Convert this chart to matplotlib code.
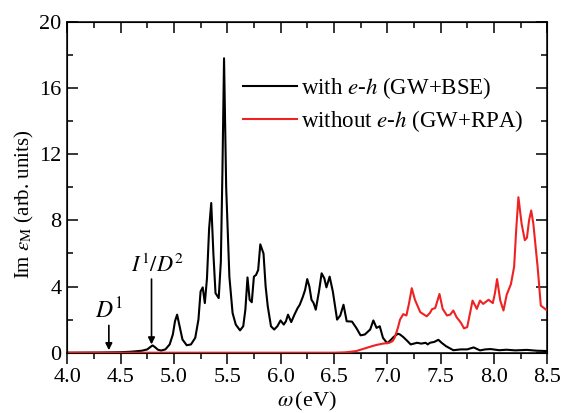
import matplotlib
matplotlib.use("Agg")
import matplotlib.pyplot as plt
from matplotlib.ticker import MultipleLocator

plt.rcParams['font.family'] = ['Liberation Serif', 'DejaVu Serif']
plt.rcParams['mathtext.fontset'] = 'stix'

# --- data ---
bse_energy = [4.0, 4.3, 4.5, 4.6, 4.7, 4.75, 4.78, 4.80, 4.82, 4.85, 4.88, 4.92, 4.96, 4.99,
              5.01, 5.03, 5.05, 5.08, 5.12, 5.16, 5.20, 5.23, 5.25, 5.27, 5.29, 5.31, 5.33,
              5.35, 5.37, 5.39, 5.42, 5.44, 5.455, 5.47, 5.49, 5.52, 5.55, 5.58, 5.62, 5.65,
              5.67, 5.69, 5.71, 5.73, 5.75, 5.77, 5.79, 5.81, 5.84, 5.86, 5.88, 5.91, 5.94,
              5.97, 6.00, 6.03, 6.05, 6.07, 6.10, 6.13, 6.16, 6.18, 6.21, 6.23, 6.25, 6.27,
              6.29, 6.31, 6.33, 6.36, 6.385, 6.41, 6.43, 6.46, 6.49, 6.53, 6.56, 6.59, 6.62,
              6.67, 6.71, 6.75, 6.79, 6.84, 6.87, 6.90, 6.93, 6.96, 7.00, 7.03, 7.06, 7.10,
              7.12, 7.15, 7.19, 7.22, 7.25, 7.28, 7.32, 7.36, 7.38, 7.40, 7.44, 7.48, 7.51,
              7.55, 7.62, 7.69, 7.75, 7.81, 7.87, 7.92, 7.97, 8.05, 8.12, 8.20, 8.31, 8.40, 8.50]
bse_im = [0.0, 0.01, 0.03, 0.06, 0.12, 0.2, 0.35, 0.44, 0.35, 0.18, 0.13, 0.2, 0.5, 1.1,
          1.9, 2.3, 1.7, 0.8, 0.45, 0.5, 0.9, 2.0, 3.7, 3.95, 3.0, 4.5, 7.5,
          9.05, 6.0, 3.6, 3.3, 5.5, 11.0, 17.8, 10.0, 4.6, 2.4, 1.7, 1.35, 1.6,
          2.6, 4.55, 3.2, 3.05, 4.6, 4.7, 5.0, 6.55, 6.0, 4.0, 2.8, 1.6, 1.4,
          1.6, 1.95, 1.7, 1.9, 2.3, 1.85, 2.3, 2.7, 2.9, 3.4, 3.8, 4.45, 4.0,
          3.2, 3.0, 2.6, 3.7, 4.8, 4.5, 3.95, 4.6, 3.7, 2.0, 2.25, 2.9, 1.9,
          1.88, 1.5, 1.05, 1.1, 1.4, 1.95, 1.5, 1.6, 0.9, 0.57, 0.75, 0.95, 1.15,
          1.1, 0.95, 0.7, 0.5, 0.55, 0.6, 0.55, 0.6, 0.5, 0.6, 0.65, 0.78, 0.6,
          0.4, 0.15, 0.2, 0.2, 0.32, 0.14, 0.2, 0.22, 0.15, 0.18, 0.14, 0.17, 0.12, 0.1]

rpa_energy = [4.0, 6.5, 6.6, 6.65, 6.71, 6.76, 6.81, 6.86, 6.90, 6.96, 7.02, 7.05, 7.07, 7.10,
              7.12, 7.15, 7.18, 7.205, 7.23, 7.26, 7.31, 7.37, 7.40, 7.42, 7.45, 7.49, 7.52,
              7.56, 7.59, 7.62, 7.65, 7.69, 7.72, 7.75, 7.78, 7.80, 7.84, 7.87, 7.90, 7.95,
              7.99, 8.01, 8.03, 8.06, 8.09, 8.12, 8.16, 8.19, 8.21, 8.23, 8.26, 8.29, 8.31,
              8.33, 8.35, 8.37, 8.41, 8.44, 8.47, 8.50]
rpa_im = [0.0, 0.0, 0.02, 0.05, 0.1, 0.2, 0.3, 0.4, 0.47, 0.55, 0.6, 0.7, 0.91, 1.5,
          2.0, 2.33, 2.25, 3.0, 3.9, 3.2, 2.45, 2.2, 2.4, 2.63, 2.7, 3.55, 2.65,
          2.25, 2.3, 2.55, 2.15, 1.82, 1.47, 1.55, 2.5, 3.15, 2.65, 3.15, 2.95, 3.2,
          3.0, 3.6, 4.45, 3.15, 2.55, 3.5, 4.15, 5.2, 7.5, 9.4, 7.8, 6.8, 6.95,
          8.0, 8.6, 7.8, 5.2, 2.85, 2.7, 2.55]

labels = ["with $e$-$h$ (GW+BSE)", "without $e$-$h$ (GW+RPA)"]
x_ticks = [4.0, 4.5, 5.0, 5.5, 6.0, 6.5, 7.0, 7.5, 8.0, 8.5]
y_ticks = [0, 4, 8, 12, 16, 20]

fig = plt.figure(figsize=(5.7, 4.13), dpi=100)
ax = fig.add_axes([0.118, 0.146, 0.842, 0.801])

ax.plot(bse_energy, bse_im, color='black', lw=1.5, label=labels[0], zorder=3)
ax.plot(rpa_energy, rpa_im, color='#ee2222', lw=1.5, label=labels[1], zorder=4)

ax.set_xlim(4.0, 8.5)
ax.set_ylim(0, 20)
ax.set_xticks(x_ticks)
ax.set_xticklabels([f"{v:.1f}" for v in x_ticks])
ax.set_yticks(y_ticks)
ax.xaxis.set_minor_locator(MultipleLocator(0.25))
ax.yaxis.set_minor_locator(MultipleLocator(2))

for sp in ax.spines.values():
    sp.set_linewidth(1.1)

ax.tick_params(axis='x', which='both', direction='out', top=False, labelsize=16, pad=3, width=1.1)
ax.tick_params(axis='x', which='major', length=8)
ax.tick_params(axis='x', which='minor', length=4.5)
ax.tick_params(axis='y', which='both', direction='in', right=True, labelsize=16, pad=4, width=1.1)
ax.tick_params(axis='y', which='major', length=8)
ax.tick_params(axis='y', which='minor', length=4.5)

axt = ax.twiny()
axt.set_xlim(ax.get_xlim())
axt.set_xticks(x_ticks)
axt.xaxis.set_minor_locator(MultipleLocator(0.25))
axt.tick_params(axis='x', which='both', direction='in', labeltop=False, width=1.1)
axt.tick_params(axis='x', which='major', length=8)
axt.tick_params(axis='x', which='minor', length=4.5)

ax.set_xlabel(r"$\omega\,$(eV)", fontsize=16, labelpad=2)
ax.set_ylabel(r"Im $\varepsilon_{\rm M}$ (arb. units)", fontsize=15)
ax.yaxis.set_label_coords(-0.065, 0.45)

leg = ax.legend(loc='center left', bbox_to_anchor=(0.366, 0.75), frameon=False, fontsize=16.5,
                handlelength=2.35, handletextpad=0.2, labelspacing=0.3,
                borderaxespad=0.0, borderpad=0.0)

# annotations
ax.annotate("", xy=(4.39, 0.15), xytext=(4.39, 1.65),
            arrowprops=dict(arrowstyle='-|>', color='black', lw=1.2, mutation_scale=10,
                            shrinkA=0, shrinkB=0), zorder=5)
ax.text(4.39, 1.8, "$D^1$", fontsize=17, ha='center', va='bottom')
ax.annotate("", xy=(4.79, 0.5), xytext=(4.79, 4.45),
            arrowprops=dict(arrowstyle='-|>', color='black', lw=1.2, mutation_scale=10,
                            shrinkA=0, shrinkB=0), zorder=5)
ax.text(4.85, 4.6, "$I^1/D^2$", fontsize=16, ha='center', va='bottom')

fig.savefig("out.png", dpi=100)
